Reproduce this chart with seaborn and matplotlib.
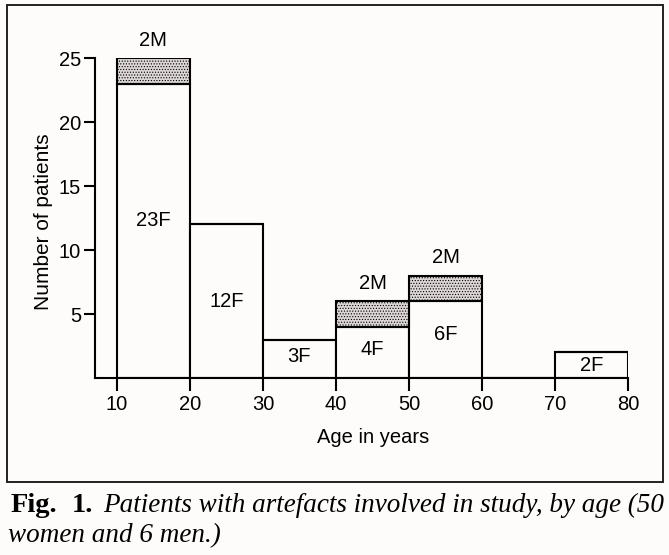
import matplotlib
matplotlib.use("Agg")
import matplotlib.pyplot as plt
import seaborn as sns
import pandas as pd
from matplotlib.patches import Rectangle

# Age groups (left bin edge) and patient counts
age_bins = [10, 20, 30, 40, 50, 60, 70, 80]
age_starts = [10, 20, 30, 40, 50, 60, 70]
women = [23, 12, 3, 4, 6, 0, 2]
men = [2, 0, 0, 2, 2, 0, 0]
y_ticks = [5, 10, 15, 20, 25]
# heights where the "nF" labels sit inside the bars
women_label_y = [12.3, 6.0, 1.7, 2.2, 3.4, 0, 1.0]

# Long table for seaborn histplot (one row per group and sex, weighted by count)
rows = []
for start, f, m in zip(age_starts, women, men):
    rows.append({"age": start + 5, "sex": "F", "count": f})
    rows.append({"age": start + 5, "sex": "M", "count": m})
df = pd.DataFrame(rows)

sns.set_theme(style="ticks")
plt.rcParams["font.family"] = ["Liberation Sans", "DejaVu Sans"]
plt.rcParams["text.color"] = "black"
plt.rcParams["axes.labelcolor"] = "black"
plt.rcParams["xtick.color"] = "black"
plt.rcParams["ytick.color"] = "black"
plt.rcParams["hatch.linewidth"] = 0.5
plt.rcParams["hatch.color"] = "#a09898"

bg = "#fdfcfa"
fig = plt.figure(figsize=(6.69, 5.55), dpi=100)
fig.patch.set_facecolor(bg)
ax = fig.add_axes([95 / 669, 1 - 378 / 555, 533 / 669, 320 / 555])
ax.set_facecolor(bg)

stipple = "#ddd6d6"
sns.histplot(
    data=df, x="age", weights="count", hue="sex", hue_order=["M", "F"],
    bins=age_bins, multiple="stack", element="bars",
    palette={"F": bg, "M": stipple}, alpha=1, edgecolor="black",
    linewidth=1.5, legend=False, ax=ax,
)

# stippled pattern on the male part of the bars
stipple_r = matplotlib.colors.to_rgb(stipple)[0]
for container in ax.containers:
    for patch in container:
        if abs(patch.get_facecolor()[0] - stipple_r) < 0.01:
            patch.set_hatch("......")

ax.set_xlim(7, 80)
ax.set_ylim(0, 25)
ax.set_xticks(age_bins)
ax.set_yticks(y_ticks)
ax.tick_params(axis="x", length=9, width=1.5, pad=3, labelsize=14.5)
ax.tick_params(axis="y", length=8, width=1.5, pad=2, labelsize=14.5)
for side in ["top", "right"]:
    ax.spines[side].set_visible(False)
for side in ["left", "bottom"]:
    ax.spines[side].set_linewidth(1.5)
    ax.spines[side].set_color("black")

ax.set_xlabel("Age in years", fontsize=14.5)
ax.set_ylabel("Number of patients", fontsize=15)
ax.xaxis.set_label_coords(0.522, -0.155)
ax.yaxis.set_label_coords(-0.079, 0.49)

# count labels
for start, f, m, ly in zip(age_starts, women, men, women_label_y):
    cx = start + 5
    if f > 0:
        ax.text(cx, ly, f"{f}F", ha="center", va="center", fontsize=14.5)
    if m > 0:
        ax.text(cx, f + m + 1.4, f"{m}M", ha="center", va="center",
                fontsize=14.5, clip_on=False)

# frame around the figure panel
fig.add_artist(Rectangle((7 / 669, 1 - 482 / 555), 656 / 669, 477 / 555,
                         transform=fig.transFigure, fill=False,
                         edgecolor="#222222", linewidth=1.4))

# caption
serif = ["Liberation Serif", "DejaVu Serif"]
fig.text(11 / 669, 1 - 512 / 555, "Fig.", fontsize=20.5, fontweight="bold",
         family=serif, va="baseline")
fig.text(72 / 669, 1 - 512 / 555, "1.", fontsize=20.5, fontweight="bold",
         family=serif, va="baseline")
fig.text(103 / 669, 1 - 512 / 555,
         "Patients with artefacts involved in study, by age (50",
         fontsize=19.5, style="italic", family=serif, va="baseline")
fig.text(8 / 669, 1 - 542 / 555, "women and 6 men.)", fontsize=19.5,
         style="italic", family=serif, va="baseline")

fig.savefig("out.png", dpi=100, facecolor=bg)
